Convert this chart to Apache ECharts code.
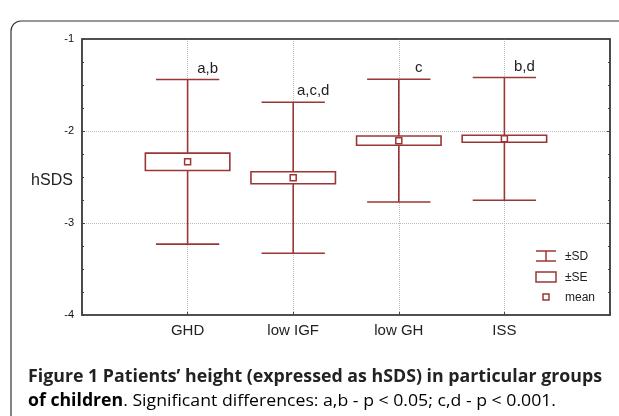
<!DOCTYPE html>
<html><head><meta charset="utf-8">
<script src="https://cdn.jsdelivr.net/npm/echarts@6.0.0/dist/echarts.min.js"></script>
<style>html,body{margin:0;padding:0;background:#fff}#c{width:619px;height:416px}</style>
</head><body><div id="c"></div>
<script>
// ---- data ----
const categories = ['GHD', 'low IGF', 'low GH', 'ISS'];
const means = [-2.335, -2.508, -2.105, -2.085];
const sds = [0.895, 0.82, 0.667, 0.667];
const ses = [0.095, 0.065, 0.05, 0.038];
const sigLabels = ['a,b', 'a,c,d', 'c', 'b,d'];
const yMin = -4, yMax = -1, yStep = 1;

const RED = '#9c3636';
const chart = echarts.init(document.getElementById('c'), null, {renderer: 'canvas'});

function renderItem(params, api) {
  const x = api.value(0), m = api.value(1), sd = api.value(2), se = api.value(3);
  const c = api.coord([x, m]);
  const top = api.coord([x, m + sd]);
  const bot = api.coord([x, m - sd]);
  const seTop = api.coord([x, m + se]);
  const seBot = api.coord([x, m - se]);
  const unit = api.size([1, 0])[0];
  const boxHalf = unit * 0.40, capHalf = unit * 0.30;
  const ls = {stroke: RED, lineWidth: 1.6, fill: null};
  return {
    type: 'group',
    children: [
      {type: 'line', shape: {x1: c[0], y1: top[1], x2: c[0], y2: bot[1]}, style: ls},
      {type: 'line', shape: {x1: c[0] - capHalf, y1: top[1], x2: c[0] + capHalf, y2: top[1]}, style: ls},
      {type: 'line', shape: {x1: c[0] - capHalf, y1: bot[1], x2: c[0] + capHalf, y2: bot[1]}, style: ls},
      {type: 'rect', shape: {x: c[0] - boxHalf, y: seTop[1], width: boxHalf * 2, height: seBot[1] - seTop[1]},
        style: {stroke: RED, lineWidth: 1.6, fill: '#fff'}},
      {type: 'rect', shape: {x: c[0] - 3, y: c[1] - 3, width: 6, height: 6},
        style: {stroke: RED, lineWidth: 1.5, fill: '#fff'}},
      {type: 'text', x: c[0] + 20, y: top[1] - 11,
        style: {text: sigLabels[params.dataIndex], fill: '#222', font: '15px "Liberation Sans", Arial, sans-serif',
          align: 'center', verticalAlign: 'middle'}}
    ]
  };
}

const axisCommonY = {
  type: 'value', min: yMin, max: yMax, interval: yStep,
  axisLine: {show: false},
  axisTick: {show: true, inside: true, length: 3, lineStyle: {color: '#444'}},
  minorTick: {show: true, splitNumber: 4, length: 2, lineStyle: {color: '#444'}},
  splitLine: {show: false}
};

// caption measurement
const mctx = document.createElement('canvas').getContext('2d');
const capFont = '"Open Sans", "Noto Sans", sans-serif';
const cap1 = 'Figure 1 Patients\u2019 height (expressed as hSDS) in particular groups';
const cap2b = 'of children';
const cap2n = '. Significant differences: a,b - p < 0.05; c,d - p < 0.001.';
mctx.font = 'bold 17px ' + capFont;
const w1 = mctx.measureText(cap1).width;
const w2b = mctx.measureText(cap2b).width;
mctx.font = '17px ' + capFont;
const w2n = mctx.measureText(cap2n).width;
const sx1 = 574 / w1;
const sx2 = 528 / (w2b + w2n);

const dotted = {show: true, showMinLine: false, showMaxLine: false,
  lineStyle: {type: 'dotted', color: '#bbb', width: 1}};

chart.setOption({
  backgroundColor: '#fff',
  animation: false,
  grid: {left: 82, right: 9, top: 39, bottom: 101, containLabel: false, outerBoundsMode: 'none',
    show: true, borderColor: '#444', borderWidth: 1.6, backgroundColor: 'transparent'},
  xAxis: {
    type: 'value', min: 0, max: categories.length + 1, interval: 1,
    axisLine: {show: false},
    axisTick: {show: true, inside: true, length: 3, lineStyle: {color: '#444'}},
    axisLabel: {formatter: v => categories[v - 1] || '', fontSize: 15, color: '#222', margin: 8,
      fontFamily: '"Liberation Sans", Arial, sans-serif'},
    splitLine: dotted
  },
  yAxis: [
    Object.assign({}, axisCommonY, {
      position: 'left',
      axisLabel: {fontSize: 11, color: '#111', margin: 8, fontFamily: '"Liberation Sans", Arial, sans-serif'},
      splitLine: dotted
    }),
    Object.assign({}, axisCommonY, {position: 'right', axisLabel: {show: false}})
  ],
  series: [{
    type: 'custom',
    renderItem: renderItem,
    clip: false,
    z: 5,
    data: categories.map((c, i) => [i + 1, means[i], sds[i], ses[i]]),
    encode: {x: 0, y: [1]}
  }],
  graphic: [
    {type: 'rect', shape: {x: 11, y: 21, width: 700, height: 500, r: 10},
      style: {fill: null, stroke: '#333', lineWidth: 1.2}, silent: true},
    {type: 'rect', shape: {x: 82, y: 39, width: 528, height: 276},
      style: {fill: null, stroke: '#444', lineWidth: 1.6}, silent: true, z: 10},
    {type: 'text', x: 52, y: 181,
      style: {text: 'hSDS', font: '16px "Liberation Sans", Arial, sans-serif', fill: '#222', align: 'center', verticalAlign: 'middle'}},
    // legend
    {type: 'line', shape: {x1: 546, y1: 251, x2: 546, y2: 261}, style: {stroke: RED, lineWidth: 1.5}},
    {type: 'line', shape: {x1: 536, y1: 251, x2: 556, y2: 251}, style: {stroke: RED, lineWidth: 1.5}},
    {type: 'line', shape: {x1: 536, y1: 261, x2: 556, y2: 261}, style: {stroke: RED, lineWidth: 1.5}},
    {type: 'text', x: 565, y: 257, style: {text: '\u00b1SD', font: '12px "Liberation Sans", Arial, sans-serif', fill: '#222', verticalAlign: 'middle'}},
    {type: 'rect', shape: {x: 536, y: 272, width: 20, height: 10}, style: {stroke: RED, lineWidth: 1.5, fill: '#fff'}},
    {type: 'text', x: 565, y: 278, style: {text: '\u00b1SE', font: '12px "Liberation Sans", Arial, sans-serif', fill: '#222', verticalAlign: 'middle'}},
    {type: 'rect', shape: {x: 543, y: 294, width: 6, height: 6}, style: {stroke: RED, lineWidth: 1.5, fill: '#fff'}},
    {type: 'text', x: 565, y: 298, style: {text: 'mean', font: '12px "Liberation Sans", Arial, sans-serif', fill: '#222', verticalAlign: 'middle'}},
    // caption
    {type: 'text', x: 28, y: 377, scaleX: sx1,
      style: {text: cap1, font: 'bold 17px ' + capFont, fill: '#222', verticalAlign: 'middle'}},
    {type: 'text', x: 28, y: 401, scaleX: sx2,
      style: {text: '{b|' + cap2b + '}{n|' + cap2n + '}', verticalAlign: 'middle',
        rich: {b: {fontWeight: 'bold', fontSize: 17, fontFamily: capFont, color: '#222'},
               n: {fontWeight: 'normal', fontSize: 17, fontFamily: capFont, color: '#333'}}}}
  ]
});
</script>
</body></html>
